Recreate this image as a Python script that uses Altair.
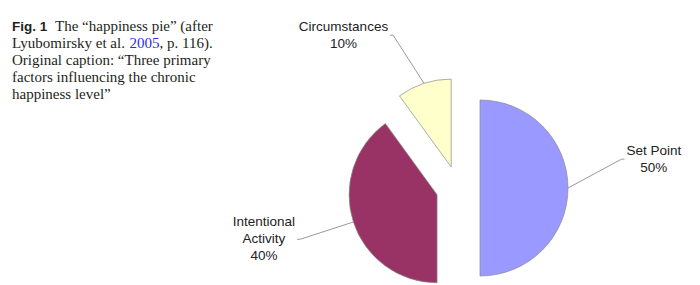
import altair as alt
import pandas as pd

# ---- data ----
categories = ["Set Point", "Intentional Activity", "Circumstances"]
shares = [50, 40, 10]
label_names = ["Set Point", "Intentional\nActivity", "Circumstances"]
slice_colors = ["#9999FF", "#993366", "#FFFFCC"]

caption_fig = "Fig. 1"
caption_l1 = "The \u201chappiness pie\u201d (after"
caption_l2a = "Lyubomirsky et al."
caption_year = "2005"
caption_l2b = ", p. 116)."
caption_l3 = "Original caption: \u201cThree primary"
caption_l4 = "factors influencing the chronic"
caption_l5 = "happiness level\u201d"

# ---- layout / style ----
CX, CY = 458, 188
R = 88
EXPLODE = 22
ELBOW_R = 166
LABEL_TURN = [-10, 0, -5]  # degrees, label placement nudge
FONT_SIZE = 13.5
LINE_H = 17

# approximate Arial advance widths (per 1000 em) to centre label blocks
AW = {"S": 667, "P": 667, "I": 278, "C": 722, "A": 667, " ": 278, "%": 889,
      "i": 222, "l": 222, "t": 278, "r": 333, "c": 500, "s": 500, "v": 500,
      "y": 500, "m": 833}


def text_w(s):
    return sum(AW.get(ch, 556) for ch in s) * FONT_SIZE / 1000


labels = [f"{n}\n{v}%" for n, v in zip(label_names, shares)]
halfw = [max(text_w(l) for l in lab.split("\n")) / 2 for lab in labels]

df = pd.DataFrame({
    "category": categories,
    "value": shares,
    "idx": list(range(len(categories))),
    "label": labels,
    "turn": LABEL_TURN,
    "halfw": halfw,
})

base = (
    alt.Chart(df)
    .transform_joinaggregate(total="sum(value)")
    .transform_window(cum="sum(value)", sort=[alt.SortField("idx")], frame=[None, 0])
    .transform_calculate(t1="2*PI*datum.cum/datum.total")
    .transform_calculate(t0="2*PI*(datum.cum-datum.value)/datum.total")
    .transform_calculate(mid="(datum.t0+datum.t1)/2")
    .transform_calculate(cx=f"{CX}+{EXPLODE}*sin(datum.mid)")
    .transform_calculate(cy=f"{CY}-{EXPLODE}*cos(datum.mid)")
    .transform_calculate(ax=f"datum.cx+{R}*sin(datum.mid)")
    .transform_calculate(ay=f"datum.cy-{R}*cos(datum.mid)")
    .transform_calculate(la="datum.mid+datum.turn*PI/180")
    .transform_calculate(ex=f"{CX}+{ELBOW_R}*sin(datum.la)")
    .transform_calculate(ey=f"{CY}-{ELBOW_R}*cos(datum.la)")
    .transform_calculate(side="sin(datum.la)>=0 ? 1 : -1")
    .transform_calculate(hx="datum.ex+datum.side*3")
    .transform_calculate(tx="datum.hx+datum.side*(datum.halfw+2)")
    .transform_calculate(ty=f"datum.ey-(split(datum.label,'\\n').length-1)*{LINE_H}/2")
)

arcs = base.mark_arc(radius=R, stroke="#8a8a8a", strokeWidth=0.7).encode(
    x=alt.X("cx:Q", scale=None, axis=None),
    y=alt.Y("cy:Q", scale=None, axis=None),
    theta=alt.Theta("t0:Q", scale=None),
    theta2="t1:Q",
    color=alt.Color("category:N", scale=alt.Scale(domain=categories, range=slice_colors), legend=None),
)

lead1 = base.mark_rule(color="#9a9a9a", strokeWidth=1).encode(
    x=alt.X("ax:Q", scale=None, axis=None),
    y=alt.Y("ay:Q", scale=None, axis=None),
    x2="ex:Q",
    y2="ey:Q",
)
lead2 = base.mark_rule(color="#9a9a9a", strokeWidth=1).encode(
    x=alt.X("ex:Q", scale=None, axis=None),
    y=alt.Y("ey:Q", scale=None, axis=None),
    x2="hx:Q",
    y2="ey:Q",
)

label_text = base.mark_text(
    font="Liberation Sans", fontSize=FONT_SIZE, lineBreak="\n", lineHeight=LINE_H,
    align="center", baseline="middle", color="#222222",
).encode(
    x=alt.X("tx:Q", scale=None, axis=None),
    y=alt.Y("ty:Q", scale=None, axis=None),
    text="label:N",
)


# ---- caption ----
def cap(text, x, y, color="#231f20", font="Liberation Serif", weight="normal",
        size=15, align="left"):
    return alt.Chart(pd.DataFrame({"t": [text]})).mark_text(
        x=x, y=y, align=align, baseline="alphabetic", font=font,
        fontSize=size, fontWeight=weight, color=color,
    ).encode(text="t:N")


LX = 12
BASES = [30.5, 47.7, 65, 82.2, 99.4]
caps = [
    cap(caption_fig, LX, BASES[0], font="Liberation Sans", weight="bold", size=13.5),
    cap(caption_l1, 55, BASES[0]),
    cap(caption_l2a, LX, BASES[1]),
    cap(caption_year, 129.5, BASES[1], color="#2b2bf0"),
    cap(caption_l2b, 159.5, BASES[1]),
    cap(caption_l3, LX, BASES[2]),
    cap(caption_l4, LX, BASES[3]),
    cap(caption_l5, LX, BASES[4]),
]

chart = alt.layer(arcs, lead1, lead2, label_text, *caps).properties(
    width=700, height=285, padding=0,
    autosize=alt.AutoSizeParams(type="none"),
).configure_view(stroke=None)

chart.save("out.html", embed_options={"renderer": "svg", "actions": False})
